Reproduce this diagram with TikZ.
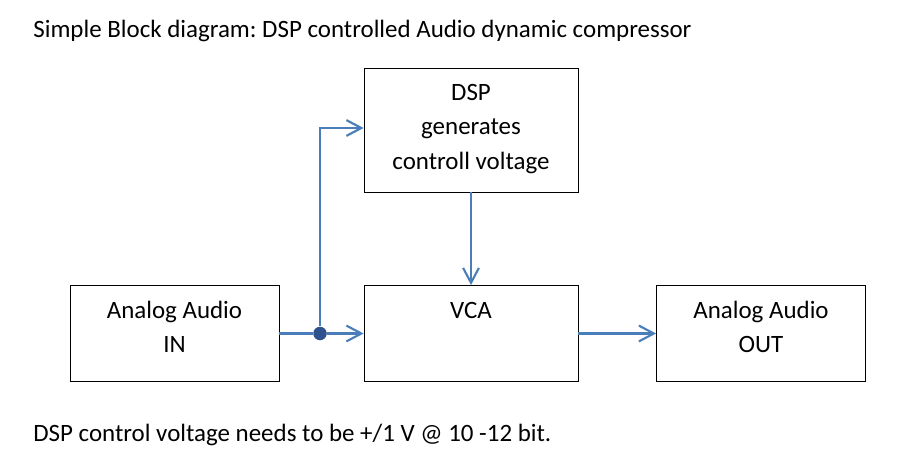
\documentclass[tikz,border=0pt]{standalone}
\usepackage{fontspec}
\setmainfont{Carlito}
\usetikzlibrary{arrows.meta}
\definecolor{linkblue}{HTML}{4A7EBB}
\definecolor{dotblue}{HTML}{2F528F}
\frenchspacing
\tikzset{
	blok/.style={draw=black, line width=0.5pt, rectangle, inner sep=0pt},
	tekst/.style={align=center, inner sep=0pt, font=\fontsize{14.2}{19.5}\selectfont},
	sig/.style={draw=linkblue, line width=1.25pt, -{Straight Barb[length=8.5pt,width=9pt,line width=1.2pt]}},
}

\begin{document}
\begin{tikzpicture}[x=0.02cm, y=-0.02cm]
		%%%%% START %%%%%
		\useasboundingbox (0, 0) rectangle (898, 459);
		
		\node[tekst, anchor=base west] (titel) at (33, 38) {Simple Block diagram: DSP controlled Audio dynamic compressor};
		
		\node[blok, minimum width=4.18cm, minimum height=1.92cm] (ain) at (174.5, 333.5) {};
		\node[blok, minimum width=4.28cm, minimum height=1.92cm] (vca) at (471, 333.5) {};
		\node[blok, minimum width=4.28cm, minimum height=2.48cm] (dsp) at (471, 130) {};
		\node[blok, minimum width=4.18cm, minimum height=1.92cm] (aout) at (761, 333.5) {};
		
		\node[tekst] (aintxt) at (174.5, 327) {Analog Audio\\IN};
		\node[tekst] (vcatxt) at (471, 310) {VCA};
		\node[tekst] (dsptxt) at (471, 129) {DSP\\generates\\controll voltage};
		\node[tekst] (aouttxt) at (761, 327) {Analog Audio\\OUT};
		
		\node[circle, fill=dotblue, inner sep=0pt, minimum size=0.27cm] (knoop) at (320, 333.5) {};
		
		\draw[draw=linkblue, line width=1.25pt] (ain.east) -- (knoop);
		\draw[sig] (knoop) -- (vca.west);
		\draw[sig] (knoop) |- (dsp.west |- 0, 128);
		\draw[sig] (dsp.south) -- (vca.north);
		\draw[sig] (vca.east) -- (aout.west);
		
		\node[tekst, anchor=base west] (noot) at (33, 441) {DSP control voltage needs to be +/1 V @ 10 -12 bit.};
		%%%%% END %%%%%
	\end{tikzpicture}
\end{document}
